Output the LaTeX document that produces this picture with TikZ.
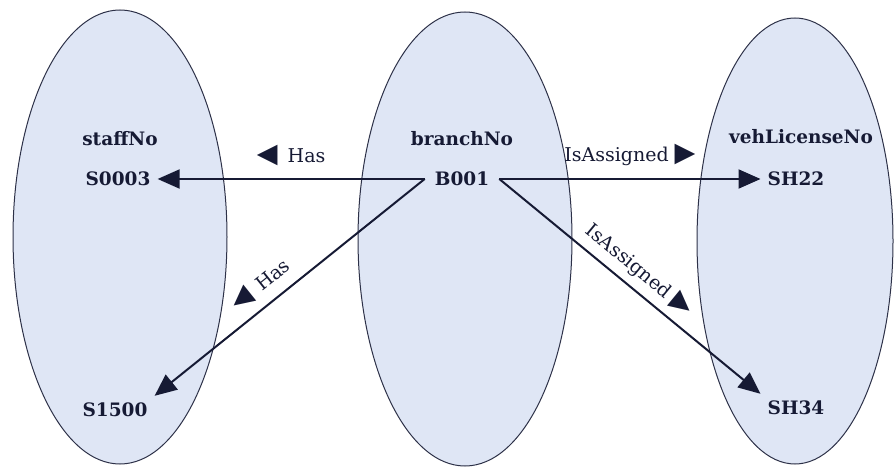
\documentclass[tikz,border=0pt]{standalone}
\usepackage{fontspec}
\setmainfont{DejaVu Serif}
\newfontfamily\symfont{DejaVu Sans}
\usetikzlibrary{arrows.meta, positioning, shapes.geometric}
\definecolor{setfill}{RGB}{223,230,245}
\definecolor{ink}{RGB}{22,26,52}
\newcommand{\dirmark}[1]{{\symfont\fontsize{27}{27}\selectfont #1}}

\begin{document}
\begin{tikzpicture}[x=1pt, y=-1pt,
  set/.style={ellipse, draw=ink!90, fill=setfill, line width=1pt, inner sep=0pt,
              minimum width=214pt, minimum height=454pt},
  attr/.style={font=\bfseries\fontsize{18.5}{20}\selectfont, text=ink},
  val/.style={font=\bfseries\fontsize{18.5}{20}\selectfont, text=ink, inner sep=7pt},
  rel/.style={font=\fontsize{19}{21}\selectfont, text=ink},
  link/.style={-{Triangle[length=22pt, width=19pt]}, ink, line width=2pt}]

\useasboundingbox (0,0) rectangle (894,470);

% Draw the three sets
\node[set] (staffset) at (120,237) {};
\node[set] (branchset) at (465,239) {};
\node[set, minimum width=196pt, minimum height=446pt] (vehset) at (795,241) {};

% Attribute names
\node[attr] (staffNo) at (120,139) {staffNo};
\node[attr] (branchNo) at (462,139) {branchNo};
\node[attr] (vehLicenseNo) at (801,137) {vehLicenseNo};

% Values in each set
\node[val] (s0003) at (118,179) {S0003};
\node[val] (s1500) at (115,410) {S1500};
\node[val, inner xsep=10pt] (b001) at (462,179) {B001};
\node[val] (sh22) at (796,179) {SH22};
\node[val] (sh34) at (796,408) {SH34};

% Draw the relationships
\draw[link] (b001.west) -- (s0003.east)
  node[rel, midway, above=9pt] {\dirmark{◀}\hspace{10pt}Has};
\draw[link] (b001.west) -- (s1500.north east)
  node[rel, pos=0.56, sloped, above=6pt] {\dirmark{◀}\hspace{10pt}Has};
\draw[link] (b001.east) -- (sh22.west)
  node[rel, midway, above=9pt] {IsAssigned\hspace{6pt}\dirmark{▶}};
\draw[link] (b001.east) -- (sh34.north west)
  node[rel, pos=0.49, sloped, above=4pt] {IsAssigned\hspace{6pt}\dirmark{▶}};
\end{tikzpicture}
\end{document}
